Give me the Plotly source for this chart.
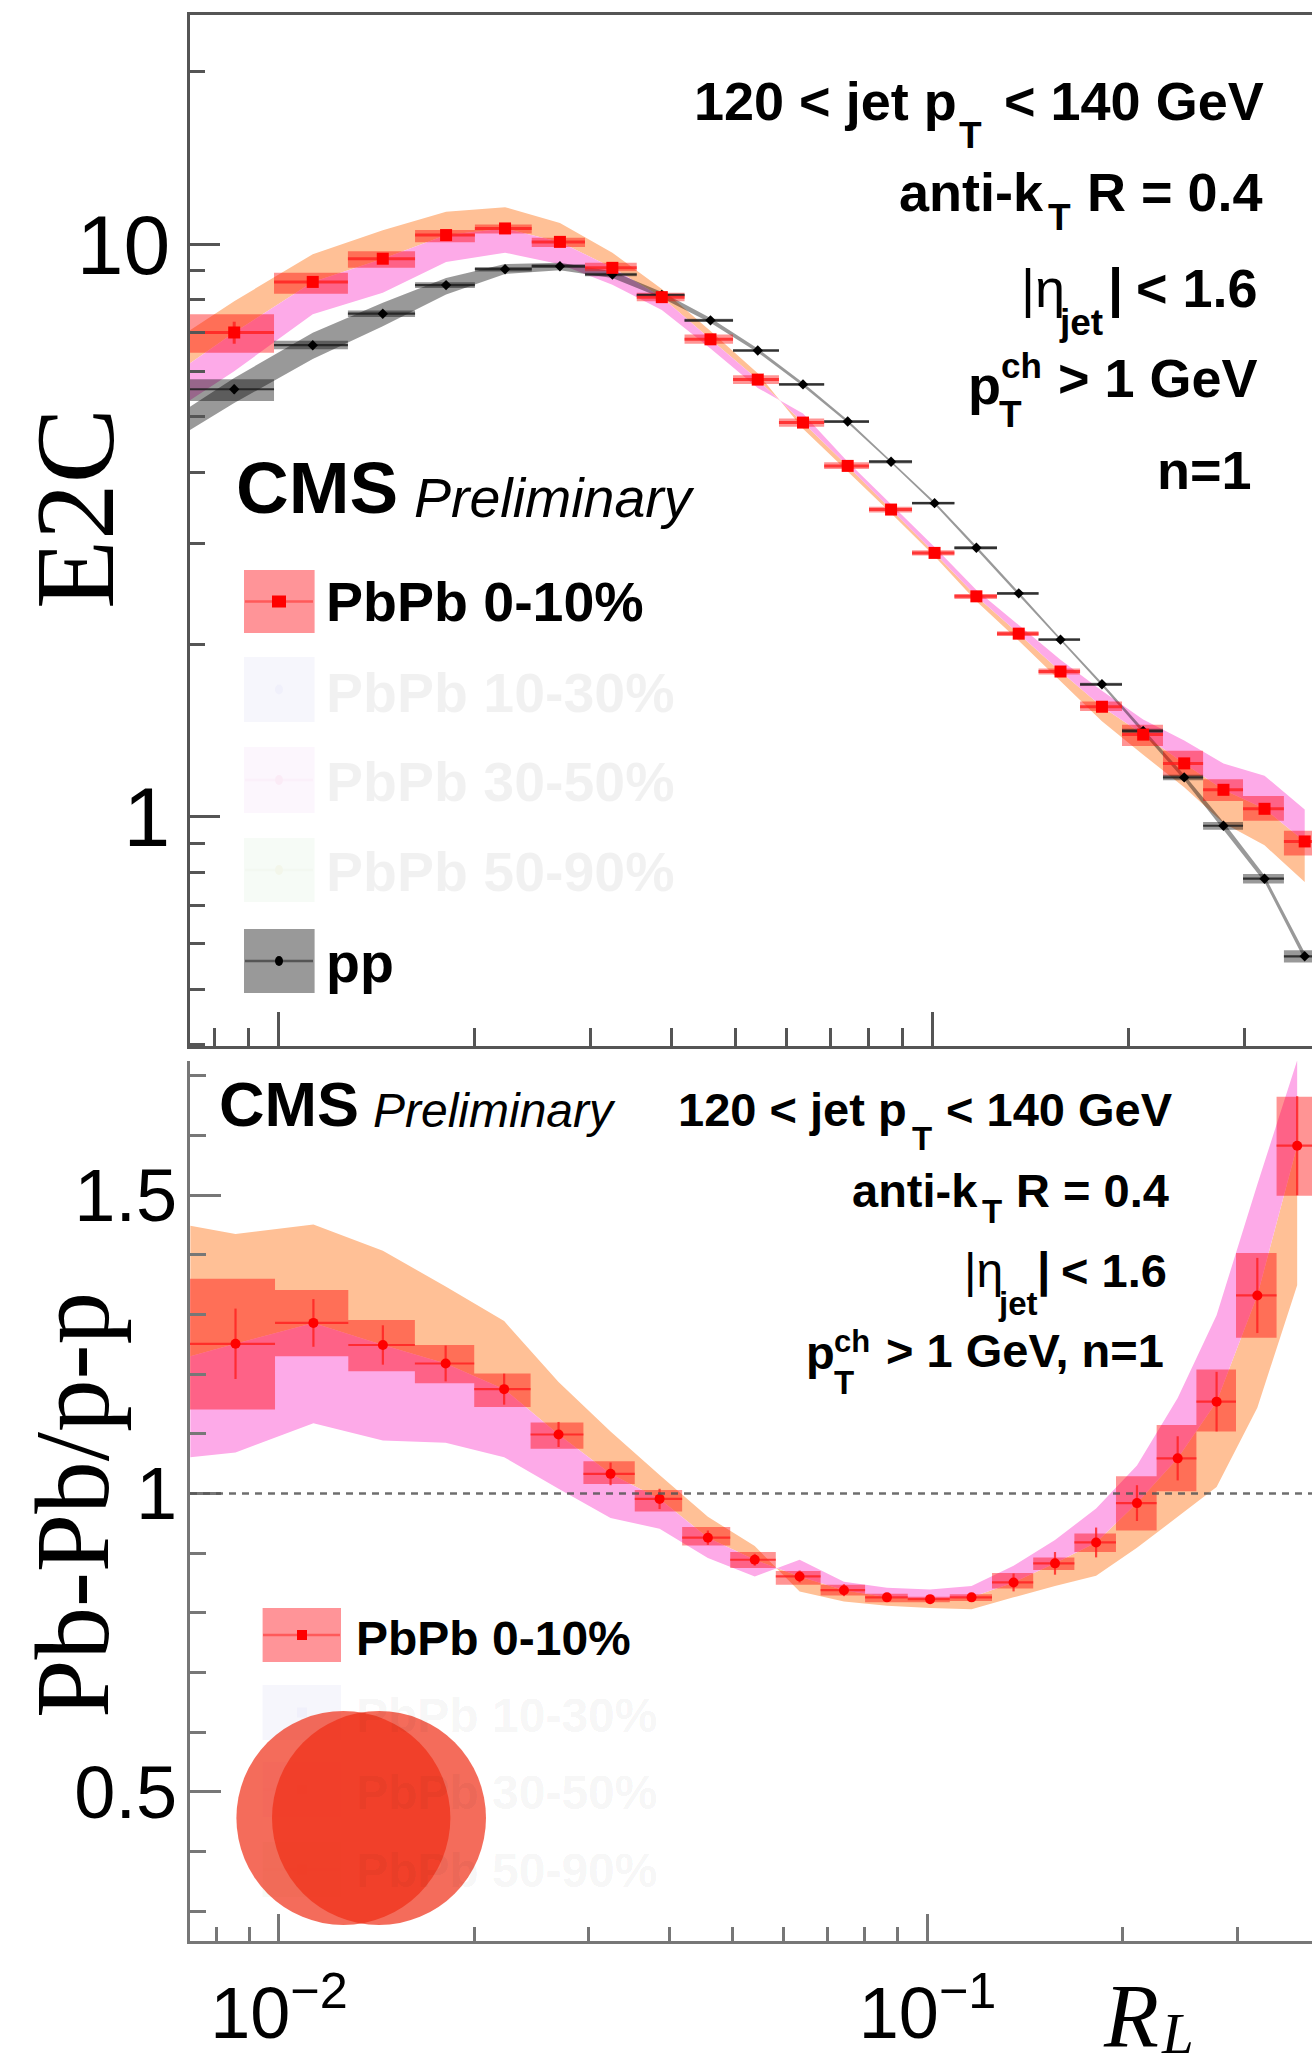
import plotly.graph_objects as go

# ---------- data ----------
bin_edges = [0.0072, 0.00986, 0.01279, 0.01620, 0.02000, 0.02443, 0.02947, 0.03536, 0.04184, 0.04963,
             0.05834, 0.0684, 0.0801, 0.0932, 0.1082, 0.1257, 0.1455, 0.1684, 0.1952, 0.2255,
             0.2597, 0.2989, 0.3452, 0.3989]
centers = [0.00857, 0.01130, 0.01446, 0.01807, 0.02224, 0.02698, 0.03245, 0.03862, 0.04584, 0.05414,
           0.06349, 0.07431, 0.08657, 0.1009, 0.1169, 0.1357, 0.1572, 0.1819, 0.2103, 0.2430,
           0.2790, 0.3224, 0.3714]
band_left = [0.0073]

# upper panel: E2C
e2c_pbpb = [7.01, 8.59, 9.43, 10.37, 10.65, 10.09, 9.09, 8.08, 6.82, 5.80, 4.88, 4.10, 3.44, 2.89, 2.427,
            2.089, 1.794, 1.557, 1.392, 1.240, 1.115, 1.033, 0.906]
e2c_pbpb_stat = [0.31, 0.10, 0.07, 0.05, 0.04, 0.04, 0.04, 0.03, 0.03, 0.02, 0.02, 0.02, 0.015, 0.012, 0.01,
                 0.01, 0.01, 0.01, 0.01, 0.012, 0.012, 0.012, 0.015]
e2c_box_hi = [7.54, 8.91, 9.72, 10.58, 10.82, 10.26, 9.28, 8.22, 6.95, 5.90, 4.96, 4.16, 3.48, 2.92, 2.45,
              2.11, 1.815, 1.59, 1.449, 1.304, 1.163, 1.088, 0.946]
e2c_box_lo = [6.46, 8.19, 9.09, 10.08, 10.44, 9.88, 8.97, 7.95, 6.70, 5.70, 4.80, 4.05, 3.40, 2.86, 2.40,
              2.07, 1.773, 1.53, 1.330, 1.179, 1.066, 0.985, 0.856]
e2c_pp = [5.58, 6.66, 7.56, 8.48, 9.04, 9.15, 8.85, 8.15, 7.36, 6.52, 5.69, 4.90, 4.17, 3.53, 2.95, 2.456,
          2.039, 1.704, 1.413, 1.172, 0.965, 0.780, 0.571]
e2c_pp_stat = [0.10, 0.06, 0.05, 0.04, 0.03, 0.03, 0.03, 0.02, 0.02, 0.02, 0.015, 0.015, 0.012, 0.01, 0.01,
               0.01, 0.008, 0.008, 0.008, 0.008, 0.008, 0.008, 0.006]
e2c_pp_box_hi = [5.81, 6.78, 7.66, 8.58, 9.12, 9.22, 8.91, 8.20, 7.41, 6.56, 5.72, 4.93, 4.20, 3.55, 2.97,
                 2.47, 2.05, 1.715, 1.425, 1.185, 0.98, 0.795, 0.585]
e2c_pp_box_lo = [5.32, 6.55, 7.46, 8.38, 8.96, 9.08, 8.79, 8.10, 7.31, 6.48, 5.66, 4.87, 4.14, 3.51, 2.93,
                 2.44, 2.03, 1.693, 1.401, 1.159, 0.95, 0.765, 0.557]
e2c_band_mid = [6.17, 7.01, 8.59, 9.43, 10.37, 10.65, 10.09, 9.09, 8.08, 6.82, 5.80, 4.88, 4.10, 3.44, 2.89,
                2.427, 2.089, 1.794, 1.557, 1.392, 1.240, 1.115, 1.033, 0.906]
e2c_orange = [7.05, 7.95, 9.60, 10.57, 11.39, 11.60, 10.89, 9.66, 8.35, 7.05, 5.95, 4.76, 4.01, 3.39, 2.85,
              2.38, 2.03, 1.723, 1.469, 1.284, 1.126, 0.976, 0.892, 0.770]
e2c_pink = [5.32, 6.00, 7.54, 8.22, 9.31, 9.66, 9.22, 8.49, 7.67, 6.57, 5.61, 5.06, 4.17, 3.51, 2.96, 2.49,
            2.16, 1.88, 1.661, 1.479, 1.36, 1.24, 1.18, 1.03]
e2c_gray_hi = [5.18, 5.84, 7.00, 7.90, 8.73, 9.23, 9.28, 8.97, 8.25, 7.43, 6.57, 5.73, 4.93, 4.19, 3.55, 2.97,
               2.47, 2.05, 1.715, 1.425, 1.185, 0.98, 0.79, 0.58]
e2c_gray_lo = [4.72, 5.28, 6.30, 7.19, 8.17, 8.87, 9.00, 8.73, 8.05, 7.29, 6.47, 5.65, 4.87, 4.15, 3.51, 2.93,
               2.44, 2.03, 1.693, 1.40, 1.16, 0.95, 0.77, 0.562]

# lower panel: ratio
ratio = [1.251, 1.286, 1.249, 1.218, 1.175, 1.099, 1.033, 0.991, 0.926, 0.889, 0.861, 0.838, 0.826, 0.823,
         0.826, 0.851, 0.883, 0.918, 0.984, 1.059, 1.154, 1.332, 1.583]
ratio_stat = [0.059, 0.040, 0.033, 0.030, 0.026, 0.021, 0.019, 0.017, 0.012, 0.010, 0.010, 0.010, 0.006, 0.006,
              0.006, 0.015, 0.019, 0.025, 0.030, 0.037, 0.050, 0.063, 0.083]
ratio_box_hi = [1.360, 1.341, 1.291, 1.249, 1.201, 1.119, 1.054, 1.006, 0.944, 0.902, 0.870, 0.847, 0.832, 0.827,
                0.831, 0.867, 0.893, 0.933, 1.029, 1.115, 1.208, 1.403, 1.665]
ratio_box_lo = [1.141, 1.230, 1.205, 1.185, 1.145, 1.075, 1.016, 0.970, 0.913, 0.875, 0.847, 0.829, 0.818, 0.818,
                0.820, 0.841, 0.872, 0.902, 0.938, 1.004, 1.104, 1.261, 1.499]
ratio_band_mid = [1.23, 1.251, 1.286, 1.249, 1.218, 1.175, 1.099, 1.033, 0.991, 0.926, 0.889, 0.861, 0.838, 0.826,
                  0.823, 0.826, 0.851, 0.883, 0.918, 0.984, 1.059, 1.154, 1.332, 1.583]
ratio_orange = [1.449, 1.435, 1.451, 1.407, 1.347, 1.289, 1.187, 1.104, 1.031, 0.961, 0.912, 0.836, 0.819, 0.812,
                0.808, 0.806, 0.826, 0.845, 0.862, 0.909, 0.961, 1.011, 1.144, 1.349]
ratio_pink = [1.061, 1.069, 1.118, 1.089, 1.085, 1.061, 1.008, 0.959, 0.941, 0.892, 0.861, 0.889, 0.852, 0.842,
              0.839, 0.845, 0.879, 0.922, 0.975, 1.047, 1.160, 1.299, 1.518, 1.726]

y1_major = [1, 10]
y1_labels = ["1", "10"]
y1_minor = [0.4, 0.5, 0.6, 0.7, 0.8, 0.9, 2, 3, 4, 5, 6, 7, 8, 9, 20]
y2_major = [0.5, 1, 1.5]
y2_labels = ["0.5", "1", "1.5"]
y2_minor = [0.3, 0.4, 0.6, 0.7, 0.8, 0.9, 1.1, 1.2, 1.3, 1.4, 1.6, 1.7]
x_major = [0.01, 0.1]
x_labels = ["10<sup>\u22122</sup>", "10<sup>\u22121</sup>"]
x_minor = [0.008, 0.009, 0.02, 0.03, 0.04, 0.05, 0.06, 0.07, 0.08, 0.09, 0.2, 0.3]

# ---------- styling ----------
W, H = 1312, 2069
ORANGE = "#FFC096"
PINK = "#FDAAE8"
GRAY = "rgba(0,0,0,0.40)"
REDBOX = "rgba(255,0,0,0.42)"
RED = "#FF0000"
REDLINE = "rgba(255,30,30,0.8)"
SANS = "Liberation Sans"
SERIF = "Liberation Serif"
AX = "#555555"
FAINT = "rgba(0,0,0,0.055)"

fig = go.Figure()


def band(xs, edge, mid, color, xa, ya):
    fig.add_trace(go.Scatter(x=xs + xs[::-1], y=edge + mid[::-1], mode="lines", fill="toself",
                             fillcolor=color, line=dict(width=0), hoverinfo="skip",
                             showlegend=False, xaxis=xa, yaxis=ya))


def boxes(hi, lo, color, xa, ya):
    xs, ys = [], []
    for i in range(len(hi)):
        a, b = bin_edges[i], bin_edges[i + 1]
        xs += [a, b, b, a, a, None]
        ys += [lo[i], lo[i], hi[i], hi[i], lo[i], None]
    fig.add_trace(go.Scatter(x=xs, y=ys, mode="lines", fill="toself", fillcolor=color,
                             line=dict(width=0), hoverinfo="skip", showlegend=False, xaxis=xa, yaxis=ya))


def points(vals, stat, symbol, size, mcol, lcol, thick, xa, ya):
    fig.add_trace(go.Scatter(
        x=centers, y=vals, mode="markers",
        marker=dict(symbol=symbol, size=size, color=mcol, line=dict(width=0)),
        error_x=dict(type="data", symmetric=False,
                     array=[bin_edges[i + 1] - centers[i] for i in range(len(centers))],
                     arrayminus=[centers[i] - bin_edges[i] for i in range(len(centers))],
                     color=lcol, thickness=thick, width=0),
        error_y=dict(type="data", array=stat, color=lcol, thickness=thick, width=0),
        showlegend=False, xaxis=xa, yaxis=ya))


band_x = band_left + centers
band(band_x, e2c_orange, e2c_band_mid, ORANGE, "x", "y")
band(band_x, e2c_pink, e2c_band_mid, PINK, "x", "y")
band(band_x, e2c_gray_hi, e2c_gray_lo, GRAY, "x", "y")
boxes(e2c_box_hi, e2c_box_lo, REDBOX, "x", "y")
boxes(e2c_pp_box_hi, e2c_pp_box_lo, GRAY, "x", "y")
points(e2c_pp, e2c_pp_stat, "diamond", 8, "#000000", "rgba(30,30,30,0.85)", 2.2, "x", "y")
points(e2c_pbpb, e2c_pbpb_stat, "square", 12, RED, REDLINE, 3, "x", "y")

band(band_x, ratio_orange, ratio_band_mid, ORANGE, "x2", "y2")
band(band_x, ratio_pink, ratio_band_mid, PINK, "x2", "y2")
boxes(ratio_box_hi, ratio_box_lo, REDBOX, "x2", "y2")
points(ratio, ratio_stat, "circle", 10, RED, REDLINE, 2.2, "x2", "y2")


def xp(v):
    return v / W


def yp(v):
    return 1 - v / H


def axis_common(**kw):
    d = dict(showgrid=False, zeroline=False, showline=True, linecolor=AX, linewidth=3, ticks="inside",
             tickcolor=AX, tickwidth=2.5, tickmode="array", color="#000000")
    d.update(kw)
    return d


left = xp(190)
layout = dict(
    width=W, height=H, margin=dict(l=0, r=0, t=0, b=0), paper_bgcolor="white", plot_bgcolor="white",
    showlegend=False,
    xaxis=axis_common(type="log", range=[-2.1346, -0.419], domain=[left, 1], anchor="y", mirror=True,
                      tickvals=x_major, showticklabels=False, ticklen=34,
                      minor=dict(ticks="inside", tickmode="array", tickvals=x_minor, ticklen=18,
                                 tickcolor=AX, tickwidth=2.5)),
    yaxis=axis_common(type="log", range=[-0.40, 1.40], domain=[yp(1046), yp(15)], anchor="x",
                      tickvals=y1_major, ticktext=y1_labels, ticklen=30, ticklabelstandoff=0,
                      tickfont=dict(family=SANS, size=84, color="#000000"),
                      minor=dict(ticks="inside", tickmode="array", tickvals=y1_minor, ticklen=15,
                                 tickcolor=AX, tickwidth=2.5)),
    xaxis2=axis_common(type="log", range=[-2.1372, -0.4073], domain=[left, 1], anchor="y2",
                       tickvals=x_major, ticktext=x_labels, ticklen=27, ticklabelstandoff=8,
                       linecolor="#777777", tickcolor="#777777",
                       tickfont=dict(family=SANS, size=72, color="#000000"),
                       minor=dict(ticks="inside", tickmode="array", tickvals=x_minor, ticklen=14,
                                  tickcolor="#777777", tickwidth=2.5)),
    yaxis2=axis_common(range=[0.25, 1.725], domain=[yp(1941), yp(1061)], anchor="x2",
                       tickvals=y2_major, ticktext=y2_labels, ticklen=31, ticklabelstandoff=-5,
                       linecolor="#777777", tickcolor="#777777",
                       tickfont=dict(family=SANS, size=74, color="#000000"),
                       minor=dict(ticks="inside", tickmode="array", tickvals=y2_minor, ticklen=16,
                                  tickcolor="#777777", tickwidth=2.5)),
)

annotations = []


def txt(x, y, text, size, anchor="left", color="#000000", family=SANS, angle=0):
    annotations.append(dict(x=xp(x), y=yp(y), xref="paper", yref="paper", text=text, showarrow=False,
                            xanchor=anchor, yanchor="middle", textangle=angle, borderpad=0,
                            font=dict(family=family, size=size, color=color)))


# axis titles
txt(75, 509, "E2C", 113, "center", family=SERIF, angle=-90)
txt(72, 1505, "Pb-Pb/p-p", 105, "center", family=SERIF, angle=-90)
txt(1102, 2016, "<i>R</i>", 90, "left", family=SERIF)
txt(1160, 2033, "<i>L</i>", 57, "left", family=SERIF)

# upper panel labels
S1 = 54
txt(958, 101, "<b>120 &lt; jet p</b>", S1, "right")
txt(958, 135, "<b>T</b>", 37, "left")
txt(1265, 101, "<b>&lt; 140 GeV</b>", S1, "right")
txt(1045, 192, "<b>anti-k</b>", S1, "right")
txt(1047, 217, "<b>T</b>", 37, "left")
txt(1264, 192, "<b>R = 0.4</b>", S1, "right")
txt(1020, 288, "|\u03b7", 54, "left")
txt(1058, 322, "<b>jet</b>", 37, "left")
txt(1107, 288, "<b>|</b>", 54, "left")
txt(1259, 288, "<b>&lt; 1.6</b>", S1, "right")
txt(967, 385, "<b>p</b>", S1, "left")
txt(1000, 366, "<b>ch</b>", 35, "left")
txt(998, 414, "<b>T</b>", 37, "left")
txt(1259, 378, "<b>&gt; 1 GeV</b>", S1, "right")
txt(1253, 470, "<b>n=1</b>", S1, "right")
txt(235, 488, "<b>CMS</b>", 73, "left")
txt(413, 498, "<i>Preliminary</i>", 55.5, "left")

# lower panel labels
S2 = 47
txt(908, 1109, "<b>120 &lt; jet p</b>", S2, "right")
txt(911, 1138, "<b>T</b>", 33, "left")
txt(1174, 1109, "<b>&lt; 140 GeV</b>", S2, "right")
txt(979, 1190, "<b>anti-k</b>", S2, "right")
txt(981, 1211, "<b>T</b>", 33, "left")
txt(1170, 1190, "<b>R = 0.4</b>", S2, "right")
txt(963, 1270, "|\u03b7", 48, "left")
txt(997, 1303, "<b>jet</b>", 33, "left")
txt(1036, 1270, "<b>|</b>", 48, "left")
txt(1168, 1270, "<b>&lt; 1.6</b>", S2, "right")
txt(805, 1352, "<b>p</b>", S2, "left")
txt(833, 1341, "<b>ch</b>", 31, "left")
txt(833, 1382, "<b>T</b>", 33, "left")
txt(1165, 1350, "<b>&gt; 1 GeV, n=1</b>", S2, "right")
txt(218, 1104, "<b>CMS</b>", 63, "left")
txt(372, 1110, "<i>Preliminary</i>", 48, "left")

# hand-placed legends (the faded entries are part of the reference)
shapes = []


def rect(x0, y0, x1, y1, color):
    shapes.append(dict(type="rect", xref="paper", yref="paper", x0=xp(x0), x1=xp(x1), y0=yp(y0), y1=yp(y1),
                       fillcolor=color, line=dict(width=0), layer="above"))


def dot(x0, y0, x1, y1, color):
    shapes.append(dict(type="circle", xref="paper", yref="paper", x0=xp(x0), x1=xp(x1), y0=yp(y0), y1=yp(y1),
                       fillcolor=color, line=dict(width=0), layer="above"))


def hline(x0, x1, y, color, w):
    shapes.append(dict(type="line", xref="paper", yref="paper", x0=xp(x0), x1=xp(x1), y0=yp(y), y1=yp(y),
                       line=dict(color=color, width=w), layer="above"))


legend_names = ["PbPb 0-10%", "PbPb 10-30%", "PbPb 30-50%", "PbPb 50-90%", "pp"]
legend_box_col = ["#FF9498", "#F6F6FC", "#FCF6FD", "#F6FBF6", "#999999"]
legend_line_col = ["#FF5A5A", "#F6F6FC", "#FBF0FA", "#F3F8F1", "#555555"]
legend_mark_col = ["#FF0000", "#F0F0FB", "#FBEBF6", "#F3F6EA", "#000000"]
legend_txt_col = ["#000000", FAINT, FAINT, FAINT, "#000000"]
legend1_box_y = [(570, 633), (657, 722), (747, 813), (838, 902), (929, 993)]
legend1_txt_y = [602, 693, 782, 872, 963]
for i, name in enumerate(legend_names):
    y0, y1 = legend1_box_y[i]
    c = (y0 + y1) / 2
    rect(244, y0, 314.6, y1, legend_box_col[i])
    hline(245, 313, c, legend_line_col[i], 2.5)
    if i == 0:
        rect(272, c - 6, 286, c + 6, legend_mark_col[i])
    else:
        dot(275, c - 5, 283, c + 5, legend_mark_col[i])
    txt(325, legend1_txt_y[i], "<b>%s</b>" % name, 55.5, "left", legend_txt_col[i])

legend2_box_y = [(1608, 1662), (1685, 1740), (1762, 1817), (1842, 1897)]
legend2_txt_y = [1638, 1715, 1792, 1870]
for i, name in enumerate(legend_names[:4]):
    y0, y1 = legend2_box_y[i]
    c = (y0 + y1) / 2
    rect(262.6, y0, 341, y1, legend_box_col[i])
    hline(263, 340, c, legend_line_col[i], 2.5)
    rect(297, c - 5, 307, c + 5, legend_mark_col[i])
    txt(355, legend2_txt_y[i], "<b>%s</b>" % name, 48, "left", legend_txt_col[i])

# overlaid discs in the reference
for cx in (343.4, 379.0):
    dot(cx - 107, 1711, cx + 107, 1925, "rgba(240,46,22,0.70)")

# reference line at ratio = 1
shapes.append(dict(type="line", xref="x2 domain", yref="y2", x0=0, x1=1, y0=1, y1=1, layer="above",
                   line=dict(color="rgba(85,85,85,0.85)", width=2.5, dash="7px,6px")))

layout["annotations"] = annotations
layout["shapes"] = shapes
fig.update_layout(**layout)

fig.write_html("out.html", config={"displayModeBar": False},
               post_script="document.body.style.margin='0';document.body.style.overflow='hidden';")
